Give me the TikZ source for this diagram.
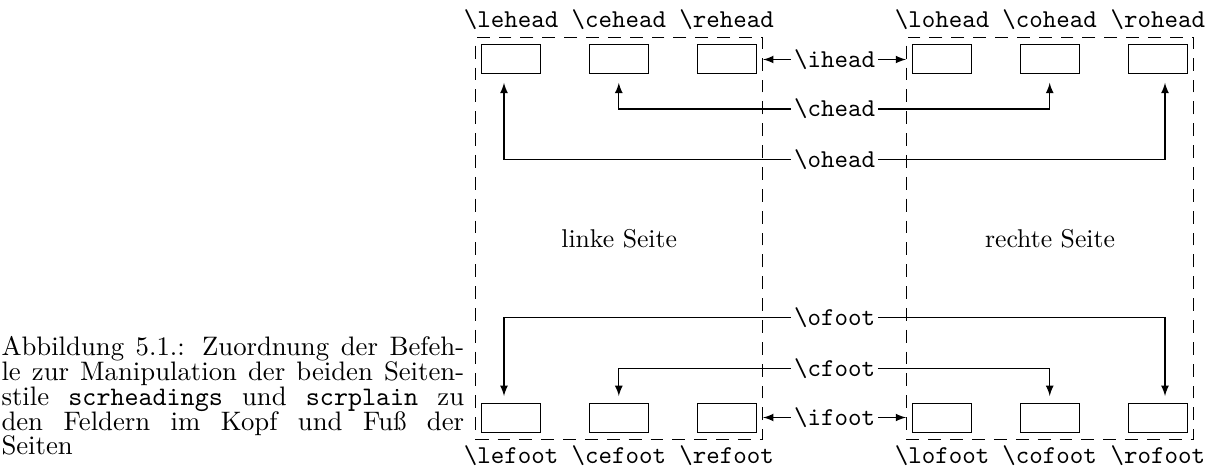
\documentclass[tikz,border=0pt]{standalone}

\tikzstyle{seite} = [draw, dash pattern = on 5pt off 3.5pt, minimum width = 111.6pt, minimum height = 156.2pt, inner sep = 0pt]
\tikzstyle{feld} = [draw, minimum width = 23pt, minimum height = 11.5pt, inner sep = 0pt]
\tikzstyle{feldname} = [font = \ttfamily, anchor = base, inner sep = 0pt]
\tikzstyle{befehl} = [font = \ttfamily, inner sep = 1pt]

\newcommand{\bsl}[1]{\textbackslash #1}

\begin{document}
\begin{tikzpicture}[x = 0.389pt, y = -0.389pt]
		\useasboundingbox (0, 0) rectangle (1206, 473);

		\node [seite] at (619.2, 238.5) (links) {linke Seite};
		\node [seite] at (1050.0, 238.5) (rechts) {rechte Seite};

		% Kopf
		\node [feld] at (511.2, 59) (lehead) {};
		\node [feld] at (618.8, 59) (cehead) {};
		\node [feld] at (726.7, 59) (rehead) {};
		\node [feld] at (942.0, 59) (lohead) {};
		\node [feld] at (1049.7, 59) (cohead) {};
		\node [feld] at (1157.8, 59) (rohead) {};
		\node [feldname] at (511.2, 27.3) {\bsl{lehead}};
		\node [feldname] at (618.8, 27.3) {\bsl{cehead}};
		\node [feldname] at (726.7, 27.3) {\bsl{rehead}};
		\node [feldname] at (942.0, 27.3) {\bsl{lohead}};
		\node [feldname] at (1049.7, 27.3) {\bsl{cohead}};
		\node [feldname] at (1157.8, 27.3) {\bsl{rohead}};

		% Fuss
		\node [feld] at (511.2, 418) (lefoot) {};
		\node [feld] at (618.8, 418) (cefoot) {};
		\node [feld] at (726.7, 418) (refoot) {};
		\node [feld] at (942.0, 418) (lofoot) {};
		\node [feld] at (1049.7, 418) (cofoot) {};
		\node [feld] at (1157.8, 418) (rofoot) {};
		\node [feldname] at (511.2, 463.3) {\bsl{lefoot}};
		\node [feldname] at (618.8, 463.3) {\bsl{cefoot}};
		\node [feldname] at (726.7, 463.3) {\bsl{refoot}};
		\node [feldname] at (942.0, 463.3) {\bsl{lofoot}};
		\node [feldname] at (1049.7, 463.3) {\bsl{cofoot}};
		\node [feldname] at (1157.8, 463.3) {\bsl{rofoot}};

		\node [befehl] at (834.5, 59.5) (ihead) {\bsl{ihead}};
		\node [befehl] at (834.5, 109) (chead) {\bsl{chead}};
		\node [befehl] at (834.5, 159.3) (ohead) {\bsl{ohead}};
		\node [befehl] at (834.5, 317.3) (ofoot) {\bsl{ofoot}};
		\node [befehl] at (834.5, 368.3) (cfoot) {\bsl{cfoot}};
		\node [befehl] at (834.5, 417.5) (ifoot) {\bsl{ifoot}};

		\draw [-latex] (ihead) -- (ihead -| links.east);
		\draw [-latex] (ihead) -- (ihead -| rechts.west);
		\draw [-latex, shorten >= 3.3pt] (chead) -| (cehead.south);
		\draw [-latex, shorten >= 3.3pt] (chead) -| (cohead.south);
		\draw [-latex, shorten >= 3.3pt] (ohead) -| ([xshift = -2.8pt] lehead.south);
		\draw [-latex, shorten >= 3.3pt] (ohead) -| ([xshift = 2.8pt] rohead.south);

		\draw [-latex] (ifoot) -- (ifoot -| links.east);
		\draw [-latex] (ifoot) -- (ifoot -| rechts.west);
		\draw [-latex, shorten >= 2.6pt] (cfoot) -| (cefoot.north);
		\draw [-latex, shorten >= 2.6pt] (cfoot) -| (cofoot.north);
		\draw [-latex, shorten >= 2.6pt] (ofoot) -| ([xshift = -2.8pt] lefoot.north);
		\draw [-latex, shorten >= 2.6pt] (ofoot) -| ([xshift = 2.8pt] rofoot.north);

		\node [anchor = north west, text width = 180pt, align = justify, inner sep = 0pt,
			font = {\fontsize{10.4}{9.65}\selectfont\lineskiplimit = -10pt}] at (1, 336) (unterschrift)
			{Abbildung 5.1.: Zuordnung der Befeh-\linebreak le zur Manipulation der beiden Seiten-\linebreak stile \texttt{scrheadings} und \texttt{scrplain} zu\linebreak den Feldern im Kopf und Fuß der\linebreak Seiten};
	\end{tikzpicture}
\end{document}
